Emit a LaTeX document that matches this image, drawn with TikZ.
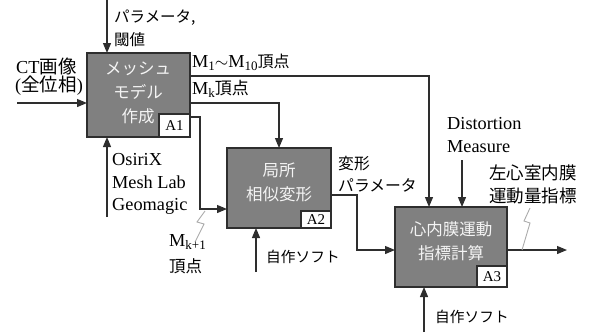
\documentclass[tikz,border=0pt]{standalone}
\usepackage{fontspec}
\setmainfont{Liberation Serif}
\newfontfamily\jp{Noto Sans CJK JP}
\usetikzlibrary{arrows.meta}
\definecolor{boxfill}{HTML}{808080}
\definecolor{ln}{HTML}{2E2E2E}
\definecolor{sq}{HTML}{ABABAB}
\definecolor{boxtext}{HTML}{F4F4F4}
\newcommand{\mysub}[1]{\raisebox{-0.35ex}{\fontsize{13}{13}\selectfont #1}}
\begin{document}
\begin{tikzpicture}[x=1pt,y=-1pt,
  proc/.style={draw=ln, line width=1.3pt, fill=boxfill, inner sep=0pt, outer sep=0pt},
  tag/.style={draw=ln, line width=1.1pt, fill=white, inner sep=0pt, outer sep=0pt,
    font=\fontsize{15}{15}\selectfont, anchor=south east},
  intext/.style={text=boxtext, align=center, inner sep=0pt, font=\jp\fontsize{16.5}{24}\selectfont},
  lbl/.style={anchor=west, align=left, inner sep=0pt, font=\fontsize{18.3}{23}\selectfont},
  arr/.style={draw=ln, line width=1.2pt, -{Triangle[length=10pt,width=8pt]}},
  squig/.style={draw=sq, line width=0.9pt}]
\useasboundingbox (0,0) rectangle (589,332);

% process boxes
\node[proc, minimum width=103pt, minimum height=84pt] (A1) at (138.5,95) {};
\node[proc, minimum width=104pt, minimum height=80pt] (A2) at (279,188) {};
\node[proc, minimum width=112pt, minimum height=80pt] (A3) at (451,247) {};
\node[tag, minimum width=31pt, minimum height=23pt] (A1t) at (A1.south east) {A1};
\node[tag, minimum width=30pt, minimum height=17pt] (A2t) at (A2.south east) {A2};
\node[tag, minimum width=30pt, minimum height=21pt] (A3t) at (A3.south east) {A3};

\node[intext] (A1x) at (138,93) {メッシュ\\モデル\\作成};
\node[intext] (A2x) at (279,182.5) {局所\\相似変形};
\node[intext] (A3x) at (451,241) {心内膜運動\\指標計算};

% free ends
\coordinate (ctin) at (17,103);
\coordinate (par) at (107,0);
\coordinate (mech1) at (107,217);
\coordinate (m110) at (429,76);
\coordinate (mk) at (279,103);
\coordinate (c1) at (200,117);
\coordinate (c2) at (200,209);
\coordinate (d1) at (357,195);
\coordinate (d2) at (357,250);
\coordinate (dist) at (462,160);
\coordinate (outA3) at (567,250);
\coordinate (mech2) at (256,272);
\coordinate (mech3) at (424,332);

% connectors
\draw[arr] (ctin) -- (ctin -| A1.west);
\draw[arr] (par) -- (par |- A1.north);
\draw[arr] (mech1) -- (mech1 |- A1.south);
\draw[arr] (m110 -| A1.east) -- (m110) -- (m110 |- A3.north);
\draw[arr] (mk -| A1.east) -| (A2.north);
\draw[arr] (c1 -| A1t.east) -- (c1) -- (c2) -- (c2 -| A2.west);
\draw[arr] (d1 -| A2.east) -- (d1) -- (d2) -- (d2 -| A3.west);
\draw[arr] (dist) -- (dist |- A3.north);
\draw[arr] (outA3 -| A3.east) -- (outA3);
\draw[arr] (mech2) -- (mech2 |- A2.south);
\draw[arr] (mech3) -- (mech3 |- A3.south);

% squiggles
\draw[squig] (205,211) -- (197,222) -- (204,224) -- (195,242);
\draw[squig] (530,208) -- (524,221) -- (530,223) -- (522,250);

% labels
\node[lbl, font=\jp\fontsize{15.5}{22.5}\selectfont] (Lpar) at (114,28.5) {パラメータ,\\閾値};
\node[lbl] (Lct) at (16,66) {CT{\jp\fontsize{18.5}{18.5}\selectfont 画像}};
\node[lbl] (Lph) at (15,86) {({\jp\fontsize{18.5}{18.5}\selectfont 全位相})};
\node[lbl] (Lm110) at (192,62) {M\mysub{1}$\sim$M\mysub{10}{\jp\fontsize{16}{16}\selectfont 頂点}};
\node[lbl] (Lmk) at (192,89) {M\mysub{k}{\jp\fontsize{17}{17}\selectfont 頂点}};
\node[lbl, font=\fontsize{18.3}{22.3}\selectfont] (Lsoft) at (112,184) {OsiriX\\Mesh Lab\\Geomagic};
\node[lbl] (Lmk1) at (169,242) {M\mysub{k+1}};
\node[lbl, font=\jp\fontsize{16.5}{16.5}\selectfont] (Lv1) at (169,266) {頂点};
\node[lbl, font=\jp\fontsize{14.7}{14.7}\selectfont] (Ls2) at (266,257) {自作ソフト};
\node[lbl, font=\jp\fontsize{15.8}{21.5}\selectfont] (Ldp) at (338,174) {変形\\パラメータ};
\node[lbl] (Ldm) at (447,135.5) {Distortion\\Measure};
\node[lbl, font=\jp\fontsize{17.5}{23}\selectfont] (Llv) at (489,184) {左心室内膜\\運動量指標};
\node[lbl, font=\jp\fontsize{14.7}{14.7}\selectfont] (Ls3) at (435,317) {自作ソフト};
\end{tikzpicture}
\end{document}
